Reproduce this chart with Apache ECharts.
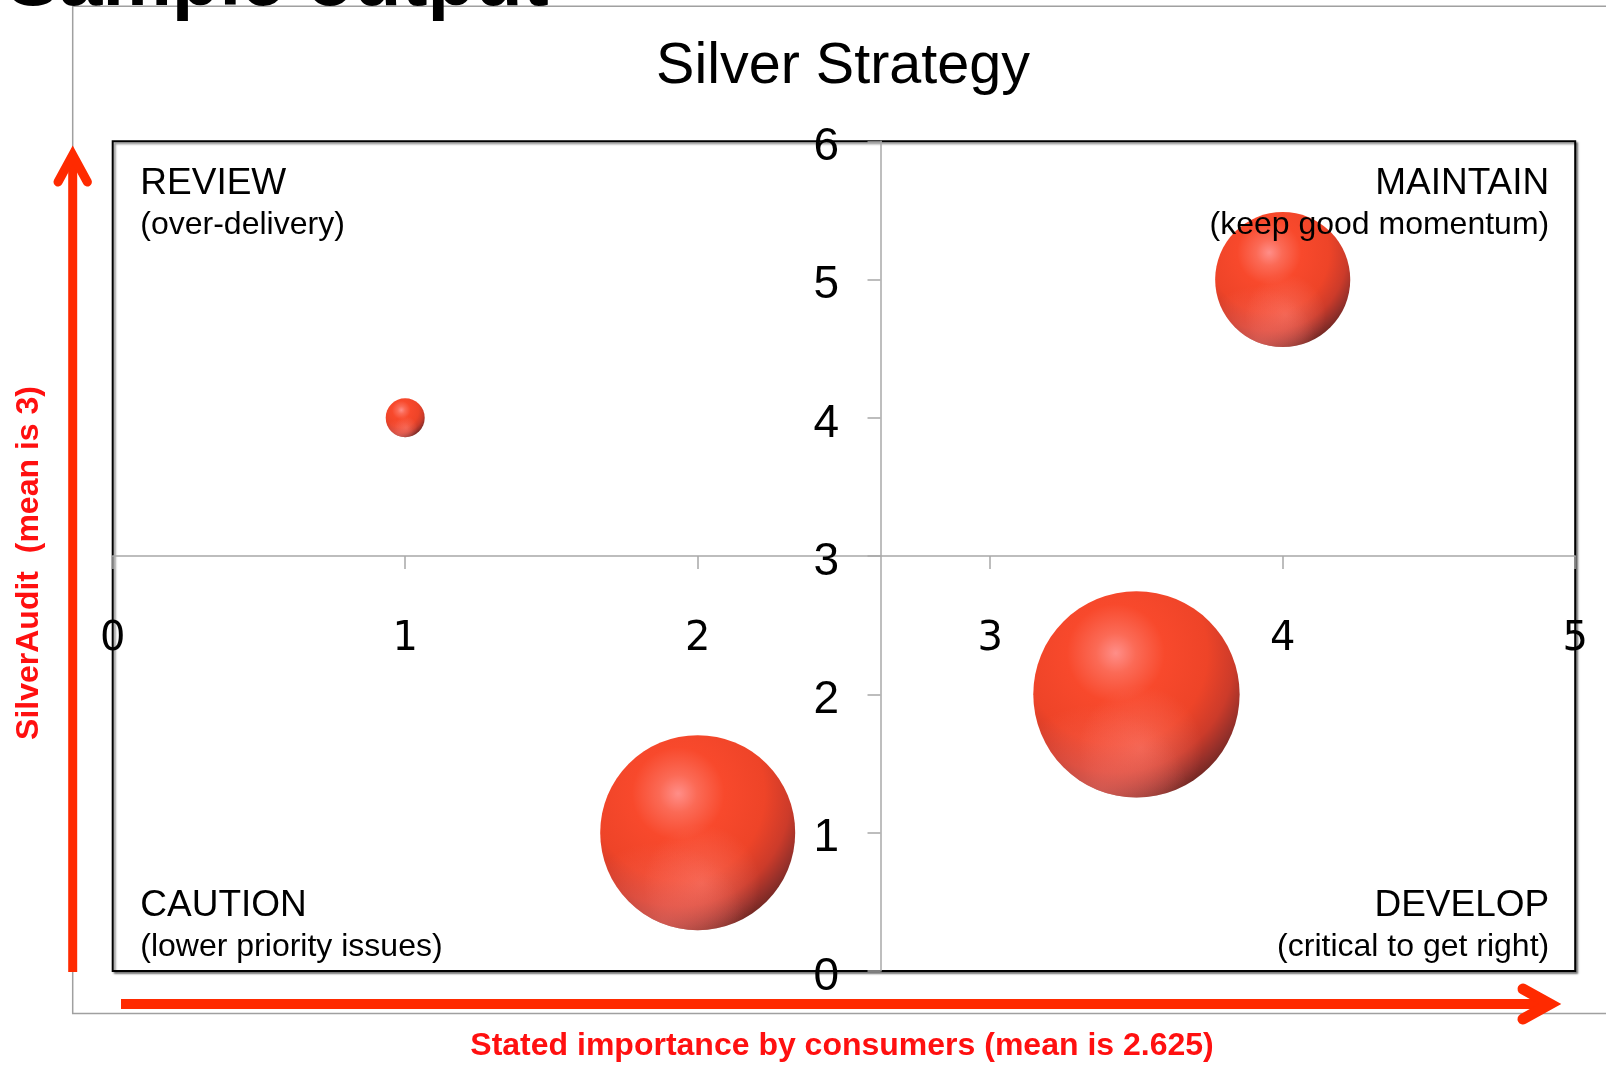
<!DOCTYPE html>
<html><head><meta charset="utf-8">
<script src="https://cdn.jsdelivr.net/npm/echarts/dist/echarts.min.js"></script>
<style>html,body{margin:0;padding:0;background:#fff}#c{width:1606px;height:1065px}</style>
</head><body><div id="c"></div>
<script>
// ---- data ----
const importance = [1, 4, 2, 3.5];          // x: stated importance
const silverAudit = [4, 5, 1, 2];           // y: SilverAudit score
const bubbleWeight = [1, 12, 25, 28];       // bubble size values
const xTickLabels = ['0', '1', '2', '3', '4', '5'];
const yTickLabels = ['0', '1', '2', '3', '4', '5', '6'];
const xMean = 2.625;
const yMean = 3;
const chartTitle = 'Silver Strategy';
const headerText = 'Sample output';
const xName = 'Stated importance by consumers (mean is 2.625)';
const yName = 'SilverAudit  (mean is 3)';
const quadrantTitles = ['REVIEW', 'MAINTAIN', 'CAUTION', 'DEVELOP'];
const quadrantSubs = ['(over-delivery)', '(keep good momentum)', '(lower priority issues)', '(critical to get right)'];

// ---- layout ----
const G = {left: 112.7, top: 141.3, width: 1462.5, height: 829.6};
const xMin = 0, xMax = 5, yMin = 0, yMax = 6;
const RED = '#ff2a00';
const TXT_RED = '#ff1010';
const SANS = '"Liberation Sans", Arial, sans-serif';

const bubbleData = importance.map((x, i) => [x, silverAudit[i], bubbleWeight[i]]);
const sizeFn = v => 39 * Math.sqrt(v[2]);

const xAxisOffset = -G.height * (yMean - yMin) / (yMax - yMin);
const yAxisOffset = -G.width * (xMean - xMin) / (xMax - xMin);

const qLeft = G.left + 27.6, qRight = G.left + G.width - 26;
const qTopHead = 184, qTopSub = 225.5, qBotHead = 905.5, qBotSub = 947.5;
const qPos = [
  [qLeft, 'left', qTopHead, qTopSub],
  [qRight, 'right', qTopHead, qTopSub],
  [qLeft, 'left', qBotHead, qBotSub],
  [qRight, 'right', qBotHead, qBotSub]
];
const quadrantGraphics = [];
quadrantTitles.forEach((t, i) => {
  const p = qPos[i];
  quadrantGraphics.push({type: 'text', x: p[0], y: p[2], z: 20,
    style: {text: t, fontSize: 37, fontFamily: SANS, fill: '#000', align: p[1], verticalAlign: 'middle'}});
  quadrantGraphics.push({type: 'text', x: p[0], y: p[3], z: 20,
    style: {text: quadrantSubs[i], fontSize: 32, fontFamily: SANS, fill: '#000', align: p[1], verticalAlign: 'middle'}});
});

const chart = echarts.init(document.getElementById('c'), null, {renderer: 'canvas'});
chart.setOption({
  animation: false,
  backgroundColor: '#fff',
  grid: {
    left: G.left, top: G.top, width: G.width, height: G.height,
    containLabel: false, outerBoundsMode: 'none',
    show: true, borderColor: '#000', borderWidth: 2, backgroundColor: '#fff',
    shadowColor: 'rgba(0,0,0,0.45)', shadowBlur: 2, shadowOffsetX: 2, shadowOffsetY: 2
  },
  xAxis: {
    type: 'value', min: xMin, max: xMax, interval: 1,
    position: 'bottom', offset: xAxisOffset,
    axisLine: {show: true, onZero: false, lineStyle: {color: '#a8a8a8', width: 1.5}},
    axisTick: {show: true, length: 13, lineStyle: {color: '#a8a8a8', width: 1.5}},
    splitLine: {show: false},
    axisLabel: {show: true, margin: 64, fontSize: 40, fontFamily: '"DejaVu Sans", sans-serif', color: '#000',
      showMinLabel: true, showMaxLabel: true, formatter: v => xTickLabels[Math.round(v)]}
  },
  yAxis: {
    type: 'value', min: yMin, max: yMax, interval: 1,
    position: 'left', offset: yAxisOffset,
    axisLine: {show: true, onZero: false, lineStyle: {color: '#a8a8a8', width: 1.5}},
    axisTick: {show: true, length: 13, lineStyle: {color: '#a8a8a8', width: 1.5}},
    splitLine: {show: false},
    axisLabel: {show: true, margin: 41.5, fontSize: 46, fontFamily: SANS, color: '#000',
      verticalAlign: 'top', lineHeight: 12,
      showMinLabel: true, showMaxLabel: true, formatter: v => yTickLabels[Math.round(v)]}
  },
  series: [
    {
      type: 'scatter', data: bubbleData, symbol: 'circle', symbolSize: sizeFn, clip: false, z: 3,
      itemStyle: {
        opacity: 1,
        color: {type: 'radial', x: 0.4, y: 0.3, r: 0.74, colorStops: [
          {offset: 0, color: '#ff8e88'},
          {offset: 0.13, color: '#fb6a56'},
          {offset: 0.32, color: '#f8492c'},
          {offset: 0.6, color: '#ee4428'},
          {offset: 0.78, color: '#cc3b2a'},
          {offset: 0.9, color: '#96302a'},
          {offset: 1, color: '#6a2622'}
        ]}
      },
      emphasis: {disabled: true}
    },
    {
      type: 'scatter', data: bubbleData, symbol: 'circle', symbolSize: sizeFn, clip: false, z: 4, silent: true,
      itemStyle: {
        opacity: 1,
        color: {type: 'radial', x: 0.52, y: 0.76, r: 0.3, colorStops: [
          {offset: 0, color: 'rgba(255,140,130,0.45)'},
          {offset: 1, color: 'rgba(255,140,130,0)'}
        ]}
      },
      emphasis: {disabled: true}
    },
    {
      type: 'scatter', data: bubbleData, symbol: 'circle', symbolSize: sizeFn, clip: false, z: 5, silent: true,
      itemStyle: {
        opacity: 1,
        color: {type: 'radial', x: 0.3, y: 1.0, r: 0.45, colorStops: [
          {offset: 0, color: 'rgba(255,120,110,0.6)'},
          {offset: 1, color: 'rgba(255,120,110,0)'}
        ]}
      },
      emphasis: {disabled: true}
    }
  ],
  graphic: [
    {type: 'text', x: 7, y: -16.5, z: 20,
      style: {text: headerText, fontSize: 78, fontWeight: 'bold', fontFamily: SANS, fill: '#000', align: 'left', verticalAlign: 'middle'}},
    {type: 'polyline', z: 5, shape: {points: [[1606, 6.3], [72.7, 6.3], [72.7, 1013.4], [1606, 1013.4]]},
      style: {stroke: '#a0a0a0', lineWidth: 1.5, fill: null}},
    {type: 'text', x: 843, y: 67.5, z: 20,
      style: {text: chartTitle, fontSize: 57.5, fontFamily: SANS, fill: '#000', align: 'center', verticalAlign: 'middle'}},
    // vertical red arrow
    {type: 'line', z: 6, shape: {x1: 72.7, y1: 972, x2: 72.7, y2: 158}, style: {stroke: RED, lineWidth: 9, lineCap: 'butt'}},
    {type: 'polyline', z: 6, shape: {points: [[58, 182], [72.7, 155], [87.4, 182]]},
      style: {stroke: RED, lineWidth: 9, lineCap: 'round', lineJoin: 'miter', fill: null}},
    // horizontal red arrow
    {type: 'line', z: 6, shape: {x1: 121, y1: 1004, x2: 1546, y2: 1004}, style: {stroke: RED, lineWidth: 10, lineCap: 'butt'}},
    {type: 'polyline', z: 6, shape: {points: [[1523, 989], [1550, 1004], [1523, 1019]]},
      style: {stroke: RED, lineWidth: 11, lineCap: 'round', lineJoin: 'miter', fill: null}},
    // axis names
    {type: 'text', x: 842, y: 1046, z: 20,
      style: {text: xName, fontSize: 32, fontWeight: 'bold', fontFamily: SANS, fill: TXT_RED, align: 'center', verticalAlign: 'middle'}},
    {type: 'text', x: 29.5, y: 563, rotation: Math.PI / 2, z: 20,
      style: {text: yName, fontSize: 32, fontWeight: 'bold', fontFamily: SANS, fill: TXT_RED, align: 'center', verticalAlign: 'middle'}}
  ].concat(quadrantGraphics)
});
</script></body></html>
